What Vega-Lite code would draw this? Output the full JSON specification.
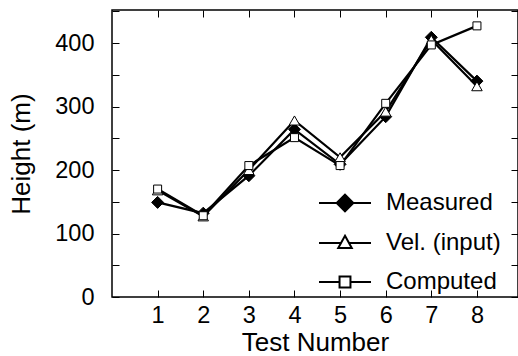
{
  "$schema": "https://vega.github.io/schema/vega-lite/v6.json",
  "width": 406,
  "height": 287,
  "autosize": "none",
  "padding": {"left": 112, "top": 10, "right": 0, "bottom": 59},
  "config": {
    "view": {"stroke": "black", "strokeWidth": 1.5},
    "font": "Liberation Sans",
    "axis": {
      "grid": false, "domain": false, "tickColor": "black", "tickWidth": 1, "tickSize": -7,
      "labelColor": "black", "titleColor": "black", "labelFont": "Liberation Sans", "titleFont": "Liberation Sans",
      "labelFontSize": 23.5, "titleFontSize": 26, "titleFontWeight": "normal"
    },
    "legend": {
      "title": null, "orient": "none", "legendX": 206, "legendY": 166, "padding": 0,
      "labelFontSize": 24, "labelFont": "Liberation Sans", "labelColor": "black", "labelOffset": 14,
      "symbolSize": 2704, "symbolStrokeWidth": 2, "symbolStrokeColor": "black", "symbolOpacity": 1, "rowPadding": -14.5
    }
  },
  "data": {"values": [
    {"test": 1, "series": "Measured", "h": 149},
    {"test": 2, "series": "Measured", "h": 132},
    {"test": 3, "series": "Measured", "h": 191},
    {"test": 4, "series": "Measured", "h": 264},
    {"test": 5, "series": "Measured", "h": 209},
    {"test": 6, "series": "Measured", "h": 284},
    {"test": 7, "series": "Measured", "h": 409},
    {"test": 8, "series": "Measured", "h": 340},
    {"test": 1, "series": "Vel. (input)", "h": 168},
    {"test": 2, "series": "Vel. (input)", "h": 127},
    {"test": 3, "series": "Vel. (input)", "h": 200},
    {"test": 4, "series": "Vel. (input)", "h": 278},
    {"test": 5, "series": "Vel. (input)", "h": 220},
    {"test": 6, "series": "Vel. (input)", "h": 292},
    {"test": 7, "series": "Vel. (input)", "h": 405},
    {"test": 8, "series": "Vel. (input)", "h": 332},
    {"test": 1, "series": "Computed", "h": 170},
    {"test": 2, "series": "Computed", "h": 128},
    {"test": 3, "series": "Computed", "h": 207},
    {"test": 4, "series": "Computed", "h": 251},
    {"test": 5, "series": "Computed", "h": 207},
    {"test": 6, "series": "Computed", "h": 305},
    {"test": 7, "series": "Computed", "h": 397},
    {"test": 8, "series": "Computed", "h": 427}
  ]},
  "resolve": {"axis": {"x": "independent", "y": "independent"}},
  "layer": [
    {
      "mark": {"type": "line", "stroke": "black", "strokeWidth": 2.2},
      "encoding": {
        "x": {"field": "test", "type": "quantitative", "scale": {"domain": [0, 8.9], "nice": false, "zero": false},
              "axis": {"values": [1, 2, 3, 4, 5, 6, 7, 8], "title": "Test Number", "labelPadding": 13, "titlePadding": 3, "labelFlush": false}},
        "y": {"field": "h", "type": "quantitative", "scale": {"domain": [0, 452], "nice": false},
              "axis": {"values": [0, 50, 100, 150, 200, 250, 300, 350, 400, 450], "labelExpr": "datum.value % 100 === 0 ? datum.label : ''",
                       "title": "Height (m)", "labelPadding": 25, "titlePadding": 20, "labelFlush": false}},
        "detail": {"field": "series"}
      }
    },
    {
      "transform": [{"filter": "datum.series === 'Measured'"}],
      "mark": {"type": "point", "shape": "diamond", "filled": true, "fill": "black", "stroke": "black", "strokeWidth": 1, "opacity": 1, "size": 144},
      "encoding": {
        "x": {"field": "test", "type": "quantitative", "axis": null},
        "y": {"field": "h", "type": "quantitative", "axis": null}
      }
    },
    {
      "transform": [{"filter": "datum.series === 'Vel. (input)'"}],
      "mark": {"type": "point", "shape": "triangle-up", "filled": true, "fill": "white", "stroke": "black", "strokeWidth": 1, "opacity": 1, "size": 110},
      "encoding": {
        "x": {"field": "test", "type": "quantitative", "axis": null},
        "y": {"field": "h", "type": "quantitative", "axis": null}
      }
    },
    {
      "transform": [{"filter": "datum.series === 'Computed'"}],
      "mark": {"type": "point", "shape": "square", "filled": true, "fill": "white", "stroke": "black", "strokeWidth": 1, "opacity": 1, "size": 64},
      "encoding": {
        "x": {"field": "test", "type": "quantitative", "axis": null},
        "y": {"field": "h", "type": "quantitative", "axis": null}
      }
    },
    {
      "mark": {"type": "point", "filled": true, "opacity": 0, "strokeWidth": 2},
      "encoding": {
        "x": {"field": "test", "type": "quantitative", "axis": null},
        "y": {"field": "h", "type": "quantitative", "axis": null},
        "shape": {"field": "series", "type": "nominal",
          "scale": {"domain": ["Measured", "Vel. (input)", "Computed"],
                    "range": ["M-1,0H1M-0.32,0L0,-0.32L0.32,0L0,0.32Z", "M-1,0H-0.16M0.16,0H1M0,-0.28L0.26,0.19L-0.26,0.19Z", "M-1,0H-0.21M0.21,0H1M-0.21,-0.21H0.21V0.21H-0.21Z"]},
          "legend": {}},
        "fill": {"field": "series", "type": "nominal",
          "scale": {"domain": ["Measured", "Vel. (input)", "Computed"], "range": ["black", "white", "white"]},
          "legend": {}},
        "stroke": {"field": "series", "type": "nominal",
          "scale": {"domain": ["Measured", "Vel. (input)", "Computed"], "range": ["black", "black", "black"]},
          "legend": {}}
      }
    },
    {
      "mark": {"type": "line", "opacity": 0},
      "encoding": {
        "x": {"field": "test", "type": "quantitative",
              "axis": {"orient": "top", "values": [1, 2, 3, 4, 5, 6, 7, 8], "labels": false, "title": null}},
        "y": {"field": "h", "type": "quantitative",
              "axis": {"orient": "right", "values": [0, 50, 100, 150, 200, 250, 300, 350, 400, 450], "labels": false, "title": null}},
        "detail": {"field": "series"}
      }
    }
  ]
}
